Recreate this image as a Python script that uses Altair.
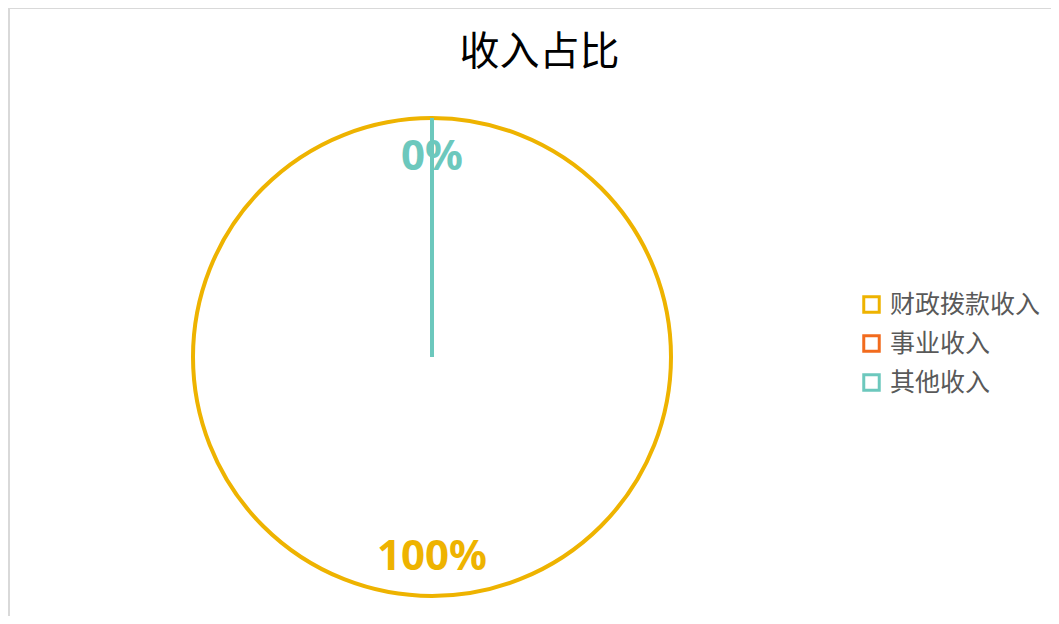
import altair as alt
import pandas as pd

categories = ["财政拨款收入", "事业收入", "其他收入"]
values = [100, 0, 0]
labels = ["100%", "0%", "0%"]
colors = ["#EEB300", "#F26B1D", "#6CC8BD"]

df = pd.DataFrame({"cat": categories, "value": values, "label": labels, "idx": list(range(len(categories)))})

CX, CY = 424, 279

color_enc = alt.Color(
    "cat:N",
    scale=alt.Scale(domain=categories, range=colors),
    sort=categories,
    legend=alt.Legend(
        title=None, orient="none", legendX=851, legendY=214,
        symbolType="square", symbolSize=240, symbolStrokeWidth=3, symbolFillColor="white",
        labelFontSize=25, labelColor="#595959", labelFont="Noto Sans CJK SC",
        labelOffset=6, rowPadding=10,
    ),
)

base = alt.Chart(df)

arcs = base.mark_arc(filled=False, strokeWidth=4, radius=239).encode(
    theta=alt.Theta("value:Q", stack=True),
    order=alt.Order("idx:Q"),
    color=color_enc,
    x=alt.value(CX), y=alt.value(CY),
)

# the hidden (overlapped) 事业收入 label is covered by 其他收入 in the reference
texts = base.transform_filter(alt.datum.cat != "事业收入").mark_text(
    radius=200, fontSize=42, fontWeight="bold", font="Noto Sans",
    align="center", baseline="middle").encode(
    theta=alt.Theta("value:Q", stack=True),
    order=alt.Order("idx:Q"),
    text="label:N",
    color=alt.Color("cat:N", sort=categories, legend=None,
                    scale=alt.Scale(domain=categories, range=colors)),
    x=alt.value(CX), y=alt.value(CY),
)

frame = alt.Chart(alt.Data(values=[{}]))
left_line = frame.mark_rule(color="#D9D9D9", strokeWidth=2).encode(
    x=alt.value(1), y=alt.value(-70), y2=alt.value(540))
top_line = frame.mark_rule(color="#D9D9D9", strokeWidth=2).encode(
    x=alt.value(0), x2=alt.value(1043), y=alt.value(-70))

chart = alt.layer(left_line, top_line, arcs, texts).resolve_scale(color="independent").properties(
    width=1043, height=538,
    autosize=alt.AutoSizeParams(type="none"),
    padding={"top": 70, "left": 0, "right": 0, "bottom": 0},
    title=alt.TitleParams("收入占比", font="Noto Sans CJK SC", fontSize=40, fontWeight="normal",
                          color="#000000", anchor="middle", frame="group", offset=8, dx=10, dy=74),
).configure_view(stroke=None)

chart.save("out.html", embed_options={"renderer": "svg", "actions": False})
